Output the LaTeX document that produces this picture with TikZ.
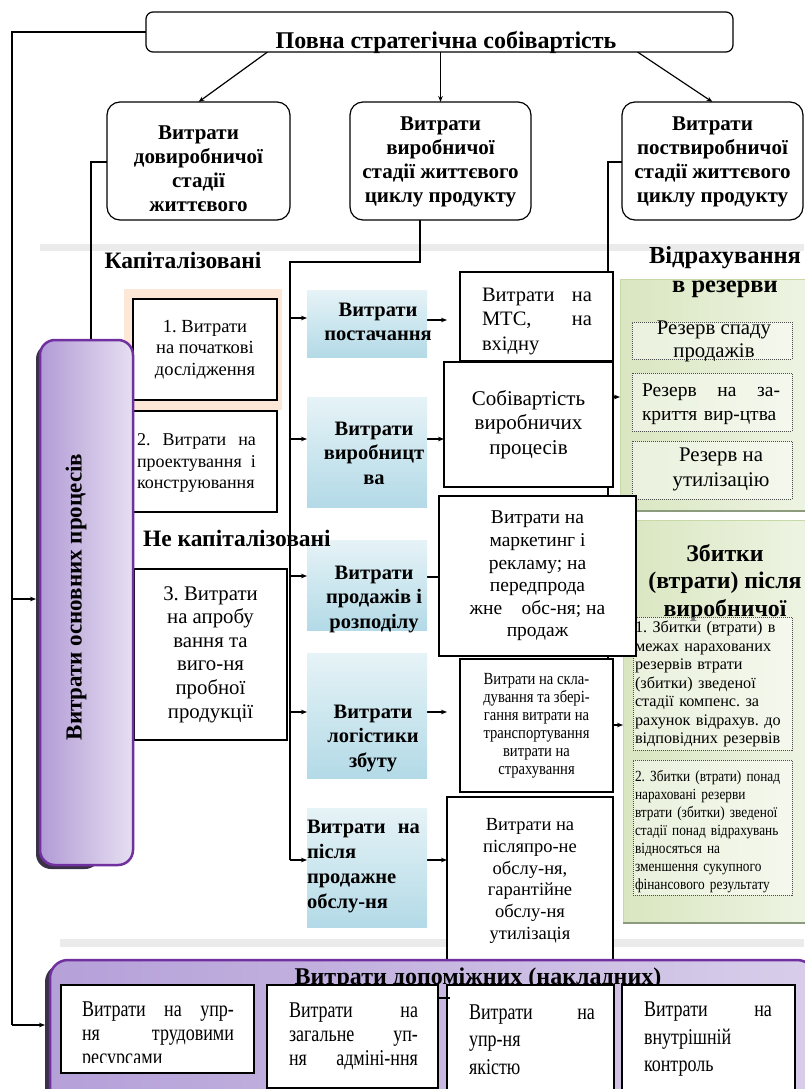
\documentclass[tikz,border=0pt]{standalone}
\usepackage{fontspec}
\setmainfont{Liberation Serif}
\newfontfamily\narrowserif[FakeStretch=0.86]{Liberation Serif}
\newfontfamily\condserif[FakeStretch=0.8]{Liberation Serif}
\usetikzlibrary{arrows.meta}
\definecolor{purpleedge}{HTML}{7030A0}
\definecolor{purpledark}{HTML}{B29BD6}
\definecolor{purplelight}{HTML}{E6DFF1}
\definecolor{shadowdark}{HTML}{3A3048}
\definecolor{bluetop}{HTML}{E6F3F7}
\definecolor{bluebottom}{HTML}{B3DAE7}
\definecolor{greenleft}{HTML}{D9E6C0}
\definecolor{greenright}{HTML}{EEF4E3}
\definecolor{greenedge}{HTML}{C7D9A6}
\definecolor{greenshadow}{HTML}{8C9A7E}
\definecolor{peach}{HTML}{FDE8D8}
\definecolor{sepgray}{HTML}{EBEBEB}
\definecolor{footleft}{HTML}{B5A0D8}
\definecolor{footright}{HTML}{D8CEEA}
% a line of text set to a fixed width (words spread with \hfill)
\newcommand{\jl}[2]{\makebox[#1][l]{#2}}
\pgfdeclarelayer{back}
\pgfdeclarelayer{wires}
\pgfsetlayers{back,wires,main}
\frenchspacing
\begin{document}
\begin{tikzpicture}[x=1pt,y=-1pt,
  every node/.style={inner sep=0pt, outer sep=0pt},
  conn/.style={draw=black, line width=1.2pt},
  arr/.style={conn, -{Stealth[length=6pt,width=4.6pt]}},
  stagebox/.style={draw=black, line width=1.2pt, fill=white, rounded corners=13pt},
  stagetext/.style={align=center, font=\fontsize{21}{24}\selectfont\bfseries},
  sidebox/.style={draw=black, line width=2pt, fill=white},
  valbox/.style={draw=black, line width=2.2pt, fill=white},
  bluelabel/.style={top color=bluetop, bottom color=bluebottom},
  labeltext/.style={align=center, font=\fontsize{20.5}{24.5}\selectfont\bfseries},
  greenpanel/.style={left color=greenleft, right color=greenright, draw=greenedge, line width=1pt},
  dotbox/.style={draw=black!70, dash pattern=on 1pt off 1pt, line width=1pt, fill=white, fill opacity=0.45},
  heading/.style={align=center, font=\fontsize{24.5}{29}\selectfont\bfseries},
  sectiontitle/.style={font=\fontsize{23.5}{27}\selectfont\bfseries},
  footbox/.style={draw=black, line width=2pt, fill=white},
  foottext/.style={font=\condserif\fontsize{22.5}{24}\selectfont, align=left},
]
\useasboundingbox (0,0) rectangle (804,1089);

% ---------- background ----------
\begin{pgfonlayer}{back}
  \fill[white] (0,0) rectangle (804,1089);
  \fill[sepgray] (40,244) rectangle (804,251);
  \fill[sepgray] (60,939) rectangle (804,947);
  \fill[peach] (124,289) rectangle (282,410);

  % reserves panel
  \node[greenpanel, minimum width=192pt, minimum height=232pt] (g1) at (716,395) {};
  \draw[greenshadow, line width=2.5pt] (g1.south west) -- (g1.south east);
  \node[heading] (g1h) at (725,272) {Відрахування\\в резерви};
  \node[dotbox, minimum width=160pt, minimum height=37pt] (r1) at (712,340.5) {};
  \node[align=center, font=\fontsize{20.8}{23}\selectfont] (r1t) at (714,341.5) {Резерв спаду\\продажів};
  \node[dotbox, minimum width=160pt, minimum height=58pt] (r2) at (712,402) {};
  \node[align=left, text width=150pt, font=\fontsize{19.5}{24}\selectfont] (r2t) at (717,404) {\jl{138pt}{Резерв\hfill на\hfill за-}\\криття вир-цтва};
  \node[dotbox, minimum width=160pt, minimum height=58pt] (r3) at (712,470) {};
  \node[align=center, font=\fontsize{20.8}{25}\selectfont] (r3t) at (721,469.5) {Резерв на\\утилізацію};

  % losses panel
  \node[greenpanel, minimum width=189pt, minimum height=403pt] (g2) at (717.5,721.5) {};
  \draw[greenshadow, line width=2.5pt] (g2.south west) -- (g2.south east);
  \node[heading, font=\fontsize{23.8}{27.5}\selectfont\bfseries] (g2h) at (725,583) {Збитки\\(втрати) після\\виробничої};
  \node[dotbox, minimum width=159pt, minimum height=133pt] (z1) at (712.5,683.5) {};
  \node[align=left, text width=155pt, font=\fontsize{16.2}{18.5}\selectfont] (z1t) at (712.5,684) {1. Збитки (втрати) в\\межах нарахованих\\резервів втрати\\(збитки) зведеної\\стадії компенс. за\\рахунок відрахув. до\\відповідних резервів};
  \node[dotbox, minimum width=159pt, minimum height=135pt] (z2) at (712.5,827.5) {};
  \node[align=left, text width=155pt, font=\narrowserif\fontsize{15.5}{18}\selectfont] (z2t) at (712.5,831.5) {2. Збитки (втрати) понад\\нараховані резерви\\втрати (збитки) зведеної\\стадії понад відрахувань\\відносяться на\\зменшення сукупного\\фінансового результату};
\end{pgfonlayer}

% ---------- top level ----------
\node[stagebox, rounded corners=7pt, minimum width=587pt, minimum height=40pt] (top) at (439.5,32) {};
\node[anchor=base, font=\fontsize{24}{28}\selectfont\bfseries] (toptxt) at (446,49) {Повна стратегічна собівартість};

\node[stagebox, minimum width=183pt, minimum height=118pt] (s1) at (198.5,161) {};
\node[stagetext] (s1t) at (198.5,169) {Витрати\\довиробничої\\стадії\\життєвого};
\node[stagebox, minimum width=181pt, minimum height=118pt] (s2) at (440.5,161) {};
\node[stagetext] (s2t) at (440.5,162) {Витрати\\виробничої\\стадії життєвого\\циклу продукту};
\node[stagebox, minimum width=181pt, minimum height=118pt] (s3) at (712.5,161) {};
\node[stagetext] (s3t) at (712.5,162) {Витрати\\поствиробничої\\стадії життєвого\\циклу продукту};

% ---------- pre-production items ----------
\node[sectiontitle] (cap) at (183,260) {Капіталізовані};
\node[sidebox, minimum width=144pt, minimum height=101pt, align=center, font=\fontsize{18.5}{21.5}\selectfont] (b1) at (205,349.5) {1. Витрати\\на початкові\\дослідження};
\node[sidebox, minimum width=144pt, minimum height=101pt] (b2) at (205,461.5) {};
\node[align=left, text width=119pt, font=\fontsize{18}{21.5}\selectfont] (b2t) at (196.5,463) {\jl{119pt}{2.\hfill Витрати\hfill на}\\\jl{119pt}{проектування\hfill і}\\конструювання};
\node[sidebox, minimum width=153pt, minimum height=171pt, align=center, font=\fontsize{20.8}{23.6}\selectfont] (b3) at (210.5,654.5) {3. Витрати\\на апробу\\вання та\\виго-ня\\пробної\\продукції};

% ---------- main processes ----------
\fill[shadowdark, rounded corners=15pt] (36,344) rectangle (100,869);
\node[left color=purpledark, right color=purplelight, draw=purpleedge, line width=2.5pt, rounded corners=15pt, minimum width=93pt, minimum height=525pt] (main) at (86.5,602.5) {};
\node[rotate=90, font=\fontsize{23}{27}\selectfont\bfseries] (maint) at (76,597) {Витрати основних процесів};

% ---------- production stage labels ----------
\node[bluelabel, minimum width=120pt, minimum height=67pt] (l1) at (367,323.5) {};
\node[labeltext] (l1t) at (378,322) {Витрати\\постачання};
\node[bluelabel, minimum width=120pt, minimum height=110pt] (l2) at (367,452) {};
\node[labeltext] (l2t) at (374,453) {Витрати\\виробницт\\ва};
\node[bluelabel, minimum width=120pt, minimum height=90pt] (l3) at (367,585) {};
\node[labeltext] (l3t) at (374,599) {Витрати\\продажів і\\розподілу};
\node[bluelabel, minimum width=120pt, minimum height=125pt] (l4) at (367,715.5) {};
\node[labeltext] (l4t) at (373,738) {Витрати\\логістики\\збуту};
\node[bluelabel, minimum width=120pt, minimum height=119pt] (l5) at (367,867.5) {};
\node[labeltext, align=left, font=\fontsize{20.5}{25}\selectfont\bfseries, anchor=west] (l5t) at (307,866) {\jl{113pt}{Витрати\hfill на}\\після\\продажне\\обслу-ня};

\node[sectiontitle, anchor=west] (noncap) at (143,538) {Не капіталізовані};

% ---------- production cost items ----------
\node[valbox, minimum width=153pt, minimum height=89pt] (v1) at (536.5,316.5) {};
\node[align=left, text width=110pt, font=\fontsize{20.5}{24.5}\selectfont] (v1t) at (537,321) {\jl{110pt}{Витрати\hfill на}\\\jl{110pt}{МТС,\hfill на}\\вхідну};
\node[valbox, minimum width=169pt, minimum height=125pt, align=center, font=\fontsize{21}{24.5}\selectfont] (v2) at (528.5,424.5) {Собівартість\\виробничих\\процесів};
\node[valbox, minimum width=197pt, minimum height=160pt, align=center, font=\fontsize{19.5}{22.6}\selectfont] (v3) at (537.5,576) {Витрати на\\маркетинг і\\рекламу; на\\передпрода\\жне\quad обс-ня; на\\продаж};
\node[valbox, minimum width=153pt, minimum height=133pt, align=center, font=\narrowserif\fontsize{17}{18}\selectfont] (v4) at (536.5,725.5) {Витрати на скла-\\дування та збері-\\гання витрати на\\транспортування\\витрати на\\страхування};
\node[valbox, minimum width=166pt, minimum height=168pt, align=center, font=\fontsize{18.5}{21.8}\selectfont] (v5) at (530,881) {Витрати на\\післяпро-не\\обслу-ня,\\гарантійне\\обслу-ня\\утилізація};

% ---------- overhead costs ----------
\fill[shadowdark, rounded corners=18pt] (45,964) rectangle (110,1110);
\node[left color=footleft, right color=footright, draw=purpleedge, line width=2.5pt, rounded corners=18pt, minimum width=765pt, minimum height=150pt] (bot) at (432.5,1035) {};
\node[anchor=base, font=\fontsize{24}{28}\selectfont\bfseries] (bottitle) at (478,984) {Витрати допоміжних (накладних)};
\node[footbox, minimum width=193pt, minimum height=88pt] (bb1) at (157.5,1029) {};
\begin{scope}
  \clip (62,986) rectangle (253,1062);
  \node[foottext, text width=152pt] (bb1t) at (158,1036) {\jl{152pt}{Витрати\hfill на\hfill упр-}\\\jl{152pt}{ня\hfill трудовими}\\ресурсами};
\end{scope}
\node[footbox, minimum width=171pt, minimum height=103pt] (bb2) at (352.5,1036.5) {};
\node[foottext, text width=129pt] (bb2t) at (353.5,1036) {\jl{129pt}{Витрати\hfill на}\\\jl{129pt}{загальне\hfill уп-}\\\jl{129pt}{ня\hfill адміні-ння}};
\node[footbox, minimum width=167pt, minimum height=115pt] (bb3) at (530.5,1042.5) {};
\node[foottext, text width=126pt, font=\condserif\fontsize{22.5}{27.5}\selectfont] (bb3t) at (532,1039.5) {\jl{126pt}{Витрати\hfill на}\\упр-ня\\якістю};
\node[footbox, minimum width=173pt, minimum height=115pt] (bb4) at (708.5,1042.5) {};
\node[foottext, text width=128pt, font=\condserif\fontsize{22.5}{27.5}\selectfont] (bb4t) at (708,1039.5) {\jl{128pt}{Витрати\hfill на}\\внутрішній\\контроль};
\draw[conn] ([yshift=-13pt]bb2.north east) -- ++(12,0);

% ---------- connectors ----------
\begin{pgfonlayer}{wires}
  % from the full cost to the three stages
  \draw[arr] ([xshift=-172pt]top.south) -- (s1.north);
  \draw[arr] (top.south -| s2.north) -- (s2.north);
  \draw[arr] ([xshift=198pt]top.south) -- (s3.north);

  % outer loop on the left
  \coordinate (lc1) at (12,32);
  \coordinate (lcm) at (12,599);
  \coordinate (lc2) at (12,1025);
  \draw[conn] (top.west) -- (lc1) -- (lc2);
  \draw[arr, shorten >=4pt] (lcm) -- (main.west |- lcm);
  \draw[arr, shorten >=5pt] (lc2) -- (bot.west |- lc2);

  % pre-production stage
  \coordinate (s1j) at (91,162);
  \draw[conn] (s1.west |- s1j) -- (s1j) -- (s1j |- main.north);

  % production stage bus
  \coordinate (mj) at (420,262);
  \coordinate (bus0) at (290,262);
  \coordinate (bus1) at (290,860);
  \draw[conn] (s2.south -| mj) -- (mj) -- (bus0) -- (bus1);
  \coordinate (l1in) at ([yshift=5.5pt]l1.west);
  \coordinate (l2in) at ([yshift=13pt]l2.west);
  \coordinate (l3in) at ([yshift=9pt]l3.west);
  \coordinate (l4in) at ([yshift=3.5pt]l4.west);
  \draw[arr] (bus0 |- l1in) -- (l1in);
  \draw[arr] (bus0 |- l2in) -- (l2in);
  \draw[arr] (bus0 |- l3in) -- (l3in);
  \draw[arr] (bus0 |- l4in) -- (l4in);
  \draw[arr] (bus1) -- (l5.west |- bus1);

  \coordinate (l1out) at ([yshift=3.5pt]l1.east);
  \coordinate (l2out) at ([yshift=13pt]l2.east);
  \coordinate (l3out) at ([yshift=8pt]l3.east);
  \coordinate (l4out) at ([yshift=3.5pt]l4.east);
  \coordinate (l5out) at ([yshift=7.5pt]l5.east);
  \draw[arr, shorten >=13pt] (l1out) -- (v1.west |- l1out);
  \draw[arr] (l2out) -- (v2.west |- l2out);
  \draw[conn] (l3out) -- (v3.west |- l3out);
  \draw[arr, shorten >=13pt] (l4out) -- (v4.west |- l4out);
  \draw[arr] (l5out) -- (v5.west |- l5out);

  % post-production stage
  \coordinate (rj) at (608,162);
  \coordinate (rA) at (608,397);
  \coordinate (rB) at (608,725);
  \draw[conn] (s3.west |- rj) -- (rj) -- (rB);
  \draw[arr] (rA) -- (g1.west |- rA);
  \draw[arr] (rB) -- (g2.west |- rB);
\end{pgfonlayer}
\end{tikzpicture}
\end{document}
